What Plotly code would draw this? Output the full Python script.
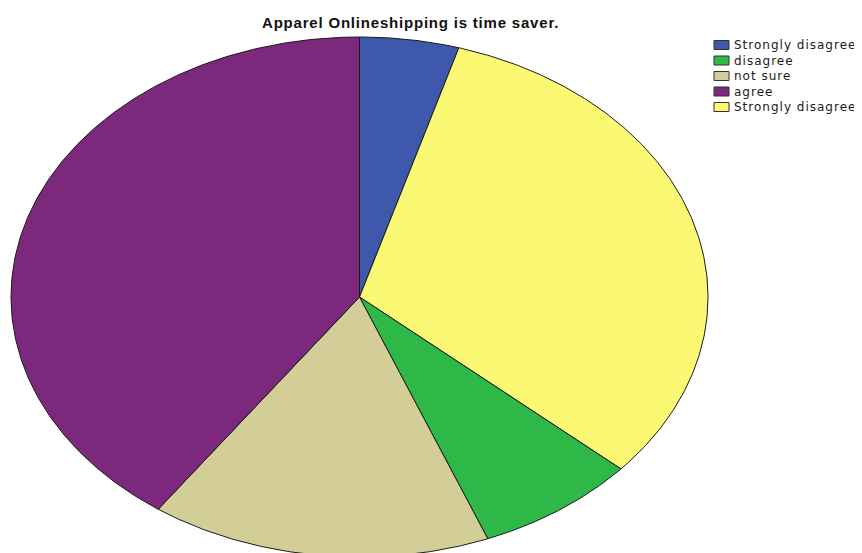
import numpy as np
import plotly.graph_objects as go

title = "Apparel Onlineshipping is time saver."
categories = ["Strongly disagree", "disagree", "not sure", "agree", "Strongly disagree"]
values = [4.6, 7.5, 15.8, 40.2, 31.9]
colors = ["#3E58AC", "#2EB848", "#D3CE97", "#7C287D", "#FBF873"]
# clockwise drawing order starting at 12 o'clock
draw_order = [0, 4, 1, 2, 3]

fig = go.Figure()
total = sum(values)
start = 0.0
for i in draw_order:
    frac = values[i] / total
    th = np.linspace(start, start + frac * 2 * np.pi, max(int(frac * 720), 4))
    xs = np.concatenate([[0], np.sin(th), [0]])
    ys = np.concatenate([[0], np.cos(th), [0]])
    fig.add_trace(go.Scatter(
        x=xs, y=ys, mode="lines", fill="toself",
        fillcolor=colors[i], line=dict(color="#1a1a1a", width=1),
        name=categories[i], showlegend=False, hoverinfo="name",
    ))
    start += frac * 2 * np.pi

W, H = 862, 553
OFF = 8  # page body margin offset


def px(x):
    return (x - OFF) / W


def py(y):
    return 1 - (y - OFF) / H


# manual legend (compact, like the original SPSS output)
leg_x0, leg_c0, leg_step = 714, 45, 15.5
shapes = []
annotations = []
for k, (cat, col) in enumerate(zip(categories, colors)):
    yc = leg_c0 + k * leg_step
    shapes.append(dict(type="rect", xref="paper", yref="paper",
                       x0=px(leg_x0), x1=px(leg_x0 + 15),
                       y0=py(yc + 4.5), y1=py(yc - 4.5),
                       fillcolor=col, line=dict(color="#333333", width=1)))
    annotations.append(dict(text='<span style="letter-spacing:1px">' + cat + '</span>',
                            xref="paper", yref="paper",
                            x=px(leg_x0 + 18), y=py(yc),
                            xanchor="left", yanchor="middle", showarrow=False,
                            font=dict(family="DejaVu Sans", size=12, color="#1a1a1a")))

annotations.append(dict(text='<span style="letter-spacing:0.8px"><b>' + title + '</b></span>',
                        xref="paper", yref="paper",
                        x=px(410), y=py(22), xanchor="center", yanchor="middle",
                        showarrow=False,
                        font=dict(family="Liberation Sans, Arial", size=15, color="#111111")))

cx, cy, rx, ry = 359.5, 297.0, 348.5, 260.0
fig.update_layout(
    width=W, height=H,
    margin=dict(l=0, r=0, t=0, b=0),
    paper_bgcolor="white", plot_bgcolor="white",
    xaxis=dict(range=[(OFF - cx) / rx, (W + OFF - cx) / rx], visible=False, fixedrange=True),
    yaxis=dict(range=[(cy - H - OFF) / ry, (cy - OFF) / ry], visible=False, fixedrange=True),
    shapes=shapes, annotations=annotations,
    showlegend=False,
)

fig.write_html("out.html")
